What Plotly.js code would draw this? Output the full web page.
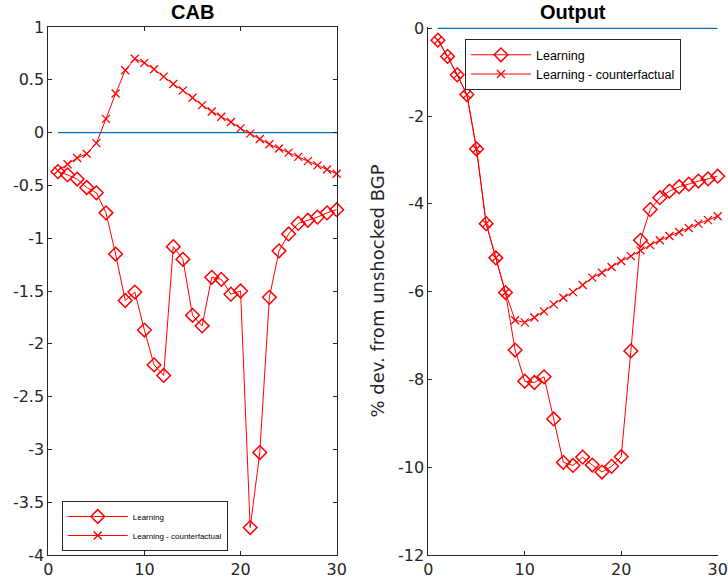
<!DOCTYPE html>
<html>
<head>
<meta charset="utf-8">
<script src="https://cdn.plot.ly/plotly-3.0.1.min.js"></script>
<style>html,body{margin:0;padding:0;background:#fff;}#chart{width:728px;height:586px;}</style>
</head>
<body>
<div id="chart"></div>
<script>
var periods = [1,2,3,4,5,6,7,8,9,10,11,12,13,14,15,16,17,18,19,20,21,22,23,24,25,26,27,28,29,30];

var cabLearning = [-0.37,-0.40,-0.44,-0.52,-0.57,-0.76,-1.15,-1.59,-1.51,-1.87,-2.20,-2.30,-1.08,-1.20,-1.73,-1.83,-1.37,-1.39,-1.53,-1.50,-3.74,-3.03,-1.56,-1.12,-0.96,-0.86,-0.83,-0.80,-0.76,-0.73];
var cabCounterfactual = [-0.36,-0.30,-0.24,-0.20,-0.10,0.13,0.37,0.59,0.70,0.66,0.60,0.53,0.46,0.40,0.33,0.26,0.20,0.15,0.10,0.04,-0.01,-0.06,-0.11,-0.15,-0.19,-0.23,-0.27,-0.31,-0.35,-0.39];

var outLearning = [-0.27,-0.64,-1.06,-1.51,-2.75,-4.45,-5.23,-6.02,-7.33,-8.04,-8.07,-7.94,-8.90,-9.89,-9.96,-9.77,-9.95,-10.11,-9.98,-9.76,-7.35,-4.83,-4.13,-3.86,-3.71,-3.61,-3.55,-3.48,-3.43,-3.37];
var outCounterfactual = [-0.27,-0.64,-1.06,-1.51,-2.75,-4.45,-5.23,-6.02,-6.65,-6.70,-6.59,-6.45,-6.29,-6.14,-6.01,-5.85,-5.68,-5.57,-5.44,-5.30,-5.19,-5.06,-4.94,-4.83,-4.73,-4.64,-4.55,-4.45,-4.37,-4.28];

var baselineX = [1, 30];
var baselineY = [0, 0];

var seriesNames = ['Learning', 'Learning - counterfactual'];
var panelTitles = ['CAB', 'Output'];
var yAxisLabel = '% dev. from unshocked BGP';

var cabTicks = [1, 0.5, 0, -0.5, -1, -1.5, -2, -2.5, -3, -3.5, -4];
var outTicks = [0, -2, -4, -6, -8, -10, -12];
var xTicks = [0, 10, 20, 30];

var RED = '#ff0000';
var BLUE = '#0072bd';
var AX = '#262626';
var TICKFONT = {family: 'DejaVu Sans', size: 16, color: AX};

function diamondTrace(x, y, xa, ya, lg) {
  return {x: x, y: y, xaxis: xa, yaxis: ya, legend: lg, name: seriesNames[0],
    type: 'scatter', mode: 'lines+markers', cliponaxis: false,
    line: {color: RED, width: 1},
    marker: {symbol: 'diamond-open', size: 10.5, color: RED, line: {color: RED, width: 1.5}}};
}
function crossTrace(x, y, xa, ya, lg) {
  return {x: x, y: y, xaxis: xa, yaxis: ya, legend: lg, name: seriesNames[1],
    type: 'scatter', mode: 'lines+markers', cliponaxis: false,
    line: {color: RED, width: 1},
    marker: {symbol: 'x-thin-open', size: 8, color: RED, line: {color: RED, width: 1.3}}};
}
function baseTrace(xa, ya) {
  return {x: baselineX, y: baselineY, xaxis: xa, yaxis: ya, type: 'scatter', mode: 'lines',
    showlegend: false, hoverinfo: 'skip', line: {color: BLUE, width: 1.2}};
}

var data = [
  baseTrace('x', 'y'),
  diamondTrace(periods, cabLearning, 'x', 'y', 'legend'),
  crossTrace(periods, cabCounterfactual, 'x', 'y', 'legend'),
  baseTrace('x2', 'y2'),
  diamondTrace(periods, outLearning, 'x2', 'y2', 'legend2'),
  crossTrace(periods, outCounterfactual, 'x2', 'y2', 'legend2')
];

function xAxis(dom, anchor, mirror) {
  return {domain: dom, anchor: anchor, range: [0, 30], tickvals: xTicks, ticktext: xTicks.map(String),
    ticks: 'inside', ticklen: 4, tickwidth: 1, tickcolor: AX, showline: true, linecolor: AX, linewidth: 1,
    mirror: mirror, showgrid: false, zeroline: false, tickfont: TICKFONT, automargin: false, fixedrange: true};
}
function yAxis(range, ticks, anchor, mirror) {
  return {domain: [0, 1], anchor: anchor, range: range, tickvals: ticks, ticktext: ticks.map(String),
    ticks: 'inside', ticklen: 4, tickwidth: 1, tickcolor: AX, showline: true, linecolor: AX, linewidth: 1,
    mirror: mirror, showgrid: false, zeroline: false, tickfont: TICKFONT, automargin: false, fixedrange: true};
}

var yax2 = yAxis([-12, 0.03], outTicks, 'x2', false);
yax2.title = {text: yAxisLabel, font: {family: 'DejaVu Sans', size: 18, color: AX}, standoff: 8};

var layout = {
  width: 728, height: 586,
  margin: {l: 0, r: 0, t: 27, b: 31, pad: 0},
  paper_bgcolor: '#fff', plot_bgcolor: '#fff',
  font: {family: 'DejaVu Sans', color: AX},
  xaxis: xAxis([0.06635, 0.4625], 'y', 'ticks'),
  yaxis: yAxis([-4, 1], cabTicks, 'x', 'ticks'),
  xaxis2: xAxis([0.5883, 0.98585], 'y2', false),
  yaxis2: yax2,
  showlegend: true,
  legend: {x: 0.0848, y: 0.1023, xanchor: 'left', yanchor: 'top', bgcolor: '#fff',
    bordercolor: AX, borderwidth: 1, itemwidth: 60,
    font: {family: 'Liberation Sans', size: 8, color: '#000'}},
  legend2: {x: 0.6387, y: 0.977, xanchor: 'left', yanchor: 'top', bgcolor: '#fff',
    bordercolor: AX, borderwidth: 1, itemwidth: 60,
    font: {family: 'Liberation Sans', size: 12.5, color: '#000'}},
  annotations: [
    {text: '<b>' + panelTitles[0] + '</b>', xref: 'paper', yref: 'paper', x: 0.2644, y: 1, xanchor: 'center', yanchor: 'bottom',
      yshift: 2, showarrow: false, font: {family: 'Liberation Sans', size: 20, color: '#000'}},
    {text: '<b>' + panelTitles[1] + '</b>', xref: 'paper', yref: 'paper', x: 0.7871, y: 1, xanchor: 'center', yanchor: 'bottom',
      yshift: 2, showarrow: false, font: {family: 'Liberation Sans', size: 20, color: '#000'}}
  ]
};

Plotly.newPlot('chart', data, layout, {staticPlot: true, displayModeBar: false});
</script>
</body>
</html>
